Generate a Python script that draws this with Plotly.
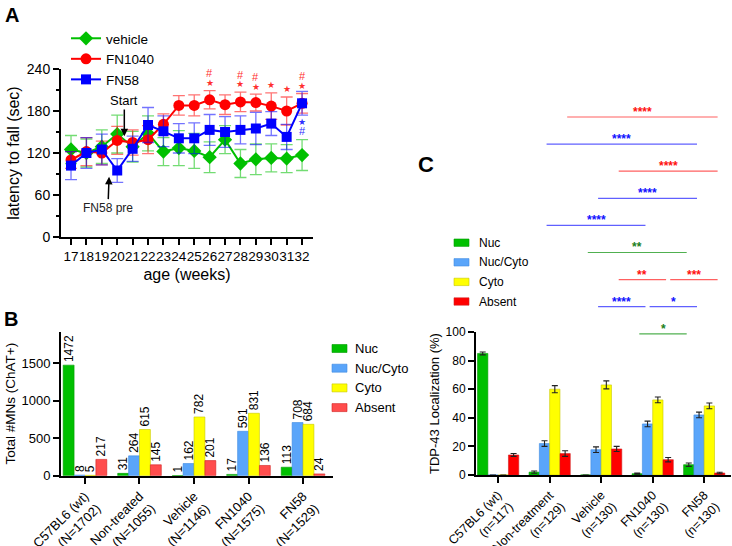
import plotly.graph_objects as go

W, H = 732, 546
def px(x): return x / W
def py(y): return 1 - y / H

FONT = "Arial, Liberation Sans, Helvetica, sans-serif"

# ---------------- Panel A data ----------------
weeks = list(range(17, 33))
vehicle_mean = [125, 120, 129, 147, 129, 148, 122, 127, 123, 114, 139, 105, 111, 113, 112, 117]
vehicle_err = [20, 20, 24, 27, 22, 25, 20, 25, 25, 22, 20, 20, 22, 20, 20, 22]
fn1040_mean = [110, 122, 120, 138, 135, 139, 161, 188, 188, 196, 189, 193, 192, 187, 180, 191]
fn1040_err = [12, 20, 17, 20, 18, 20, 15, 14, 15, 13, 14, 14, 12, 19, 20, 14]
fn58_mean = [102, 120, 125, 95, 126, 160, 151, 141, 141, 153, 150, 153, 155, 162, 143, 191]
fn58_err = [20, 22, 22, 17, 18, 25, 22, 21, 22, 22, 22, 20, 23, 17, 18, 17]
red_star_weeks = [26, 28, 29, 30, 31, 32]
red_hash_weeks = [26, 28, 29, 32]
blue_star_weeks = [32]
blue_hash_weeks = [32]

# ---------------- Panel B data ----------------
b_groups = ["C57BL6 (wt)<br>(N=1702)", "Non-treated<br>(N=1055)", "Vehicle<br>(N=1146)",
            "FN1040<br>(N=1575)", "FN58<br>(N=1529)"]
b_nuc = [1472, 31, 1, 17, 113]
b_nuccyto = [8, 264, 162, 591, 708]
b_cyto = [5, 615, 782, 831, 684]
b_absent = [217, 145, 201, 136, 24]

# ---------------- Panel C data ----------------
c_groups = ["C57BL6 (wt)<br>(n=117)", "Non-treatment<br>(n=129)", "Vehicle<br>(n=130)",
            "FN1040<br>(n=130)", "FN58<br>(n=130)"]
c_nuc = [85, 2, 0, 0.9, 7.2]
c_nuc_err = [1.0, 0.8, 0, 0.4, 1.2]
c_nuccyto = [0, 22, 17.7, 35.7, 42]
c_nuccyto_err = [0, 2.0, 2.0, 2.0, 2.0]
c_cyto = [0, 60, 63, 52.5, 48.3]
c_cyto_err = [0, 2.5, 2.8, 2.0, 2.0]
c_absent = [14, 15, 18.2, 10.7, 1.4]
c_absent_err = [1.0, 2.0, 1.8, 1.5, 0.5]

# significance comparisons: (group from, group to, bar type, label, row)
c_sig = [
    (1, 4, "Absent", "****", 0),
    (1, 4, "Nuc/Cyto", "****", 1),
    (2, 4, "Absent", "****", 2),
    (2, 4, "Nuc/Cyto", "****", 3),
    (1, 3, "Nuc/Cyto", "****", 4),
    (2, 4, "Nuc", "**", 5),
    (2, 3, "Absent", "**", 6),
    (3, 4, "Absent", "***", 6),
    (2, 3, "Nuc/Cyto", "****", 7),
    (3, 4, "Nuc/Cyto", "*", 7),
    (3, 4, "Nuc", "*", 8),
]

cats = ["Nuc", "Nuc/Cyto", "Cyto", "Absent"]
cat_offset = {"Nuc": -0.3, "Nuc/Cyto": -0.1, "Cyto": 0.1, "Absent": 0.3}
fill_B = {"Nuc": "#00C000", "Nuc/Cyto": "#5AA5FA", "Cyto": "#FFFF00", "Absent": "#FF4D4D"}
fill_C = {"Nuc": "#00C000", "Nuc/Cyto": "#5AA5FA", "Cyto": "#FFFF00", "Absent": "#FF0000"}
edge = {"Nuc": "#009A00", "Nuc/Cyto": "#3F8BE0", "Cyto": "#C8C800", "Absent": "#D02020"}

GREEN, RED, BLUE = "#00C000", "#FF0000", "#0000FF"

fig = go.Figure()

# ---------------- Panel A traces ----------------
for name, mean, err, col, sym, size, ecol in [
    ("vehicle", vehicle_mean, vehicle_err, GREEN, "diamond", 11, "rgba(0,192,0,0.55)"),
    ("FN1040", fn1040_mean, fn1040_err, RED, "circle", 11, "rgba(255,0,0,0.55)"),
    ("FN58", fn58_mean, fn58_err, BLUE, "square", 10, "rgba(0,0,255,0.55)"),
]:
    fig.add_trace(go.Scatter(
        x=weeks, y=mean, name=name, mode="lines+markers",
        line=dict(color=col, width=2),
        marker=dict(color=col, symbol=sym, size=size),
        error_y=dict(type="data", array=err, visible=True, color=ecol, thickness=1.3, width=6),
        xaxis="x", yaxis="y", legend="legend", cliponaxis=False,
    ))

# ---------------- Panel B traces ----------------
for c, vals in zip(cats, [b_nuc, b_nuccyto, b_cyto, b_absent]):
    fig.add_trace(go.Bar(
        x=b_groups, y=vals, name=c, showlegend=False,
        marker=dict(color=fill_B[c], line=dict(color=edge[c], width=0.6)),
        text=[str(v) for v in vals], textposition="outside", textangle=-90,
        textfont=dict(family=FONT, size=12, color="black"), constraintext="none",
        cliponaxis=False, xaxis="x2", yaxis="y2",
    ))

# ---------------- Panel C traces ----------------
for c, vals, errs in zip(cats, [c_nuc, c_nuccyto, c_cyto, c_absent],
                         [c_nuc_err, c_nuccyto_err, c_cyto_err, c_absent_err]):
    fig.add_trace(go.Bar(
        x=list(range(len(c_groups))), y=vals, name=c, showlegend=False,
        marker=dict(color=fill_C[c], line=dict(color=edge[c], width=0.6)),
        error_y=dict(type="data", array=errs, visible=True, color="#222222", thickness=1.1, width=3),
        cliponaxis=False, xaxis="x3", yaxis="y3",
    ))

axis_base = dict(showline=True, linecolor="black", linewidth=2, ticks="outside",
                 tickcolor="black", tickwidth=2, showgrid=False, zeroline=False,
                 automargin=False)

annotations = []
shapes = []

# panel letters
annotations += [
    dict(text="<b>A</b>", x=px(3), y=py(2), xref="paper", yref="paper", xanchor="left",
         yanchor="top", showarrow=False, font=dict(family=FONT, size=20, color="black")),
    dict(text="<b>B</b>", x=px(2), y=py(306), xref="paper", yref="paper", xanchor="left",
         yanchor="top", showarrow=False, font=dict(family=FONT, size=20, color="black")),
    dict(text="<b>C</b>", x=px(416), y=py(150), xref="paper", yref="paper", xanchor="left",
         yanchor="top", showarrow=False, font=dict(family=FONT, size=22, color="black")),
]

# Panel A arrows
annotations += [
    dict(text="Start", x=20.46, y=144, ax=20.46, ay=195, xref="x", yref="y", axref="x", ayref="y",
         showarrow=True, arrowhead=2, arrowsize=1, arrowwidth=1.5, arrowcolor="black",
         font=dict(family=FONT, size=13, color="black")),
    dict(text="FN58 pre", x=19.47, y=86, ax=19.4, ay=42, xref="x", yref="y", axref="x", ayref="y",
         showarrow=True, arrowhead=2, arrowsize=1, arrowwidth=1.5, arrowcolor="black",
         font=dict(family=FONT, size=12, color="#222222")),
]

# Panel A significance marks
for w in red_star_weeks:
    i = weeks.index(w)
    annotations.append(dict(text="★", x=w, y=fn1040_mean[i] + fn1040_err[i] + 11, xref="x", yref="y",
                            showarrow=False, font=dict(family=FONT, size=9, color="#FF3030")))
for w in red_hash_weeks:
    i = weeks.index(w)
    annotations.append(dict(text="#", x=w, y=fn1040_mean[i] + fn1040_err[i] + 25, xref="x", yref="y",
                            showarrow=False, font=dict(family=FONT, size=11, color="#FF3030")))
for w in blue_star_weeks:
    i = weeks.index(w)
    annotations.append(dict(text="★", x=w, y=fn58_mean[i] - fn58_err[i] - 9, xref="x", yref="y",
                            showarrow=False, font=dict(family=FONT, size=9, color="#3030FF")))
for w in blue_hash_weeks:
    i = weeks.index(w)
    annotations.append(dict(text="#", x=w, y=fn58_mean[i] - fn58_err[i] - 23, xref="x", yref="y",
                            showarrow=False, font=dict(family=FONT, size=11, color="#3030FF")))

# Panel B legend (manual swatches)
for k, c in enumerate(cats):
    yc = 348.5 + k * 19.7
    shapes.append(dict(type="rect", xref="paper", yref="paper", x0=px(332), x1=px(347),
                       y0=py(yc - 4), y1=py(yc + 4), fillcolor=fill_B[c],
                       line=dict(color=edge[c], width=0.6)))
    annotations.append(dict(text=c, x=px(353), y=py(yc), xref="paper", yref="paper",
                            xanchor="left", yanchor="middle", showarrow=False,
                            font=dict(family=FONT, size=13, color="black")))

# Panel C legend (manual swatches)
for k, c in enumerate(cats):
    yc = 242.7 + k * 19.6
    shapes.append(dict(type="rect", xref="paper", yref="paper", x0=px(454), x1=px(469),
                       y0=py(yc - 3.7), y1=py(yc + 3.7), fillcolor=fill_C[c],
                       line=dict(color=edge[c], width=0.6)))
    annotations.append(dict(text=c, x=px(477), y=py(yc), xref="paper", yref="paper",
                            xanchor="left", yanchor="middle", showarrow=False,
                            font=dict(family=FONT, size=12, color="black")))

# Panel C significance lines
sig_line_col = {"Absent": "#FF6060", "Nuc/Cyto": "#6060FF", "Nuc": "#50B050"}
sig_text_col = {"Absent": "#FF1010", "Nuc/Cyto": "#1010FF", "Nuc": "#208020"}
for g0, g1, c, lab, row in c_sig:
    x0 = g0 + cat_offset[c] + 0.04
    x1 = g1 + cat_offset[c] - 0.04
    yl = 117 + row * 27.1
    shapes.append(dict(type="line", xref="x3", yref="paper", x0=x0, x1=x1, y0=py(yl), y1=py(yl),
                       line=dict(color=sig_line_col[c], width=1.2)))
    annotations.append(dict(text="<b>" + lab + "</b>", x=(x0 + x1) / 2, y=py(yl - 5), xref="x3",
                            yref="paper", yanchor="middle", showarrow=False,
                            font=dict(family=FONT, size=12, color=sig_text_col[c])))

fig.update_layout(
    width=W, height=H, margin=dict(l=0, r=0, t=0, b=0),
    paper_bgcolor="white", plot_bgcolor="white",
    font=dict(family=FONT, color="black"),
    barmode="group", bargap=0.2, bargroupgap=0,
    showlegend=True,
    legend=dict(x=px(66), y=py(23), xanchor="left", yanchor="top", bgcolor="rgba(0,0,0,0)",
                font=dict(family=FONT, size=13.5, color="black"), tracegroupgap=0, itemwidth=30),
    xaxis=dict(axis_base, domain=[px(61), px(313)], range=[16.35, 32.71], anchor="y",
               tickmode="array", tickvals=weeks, ticklen=6, tickangle=0,
               tickfont=dict(family=FONT, size=13.5, color="black"),
               title=dict(text="age (weeks)", font=dict(family=FONT, size=16, color="black"), standoff=6)),
    yaxis=dict(axis_base, domain=[py(237), py(69)], range=[0, 240], anchor="x",
               tickvals=[0, 60, 120, 180, 240], ticklen=6,
               minor=dict(dtick=30, ticklen=3, tickwidth=1.5, tickcolor="black", ticks="outside"),
               tickfont=dict(family=FONT, size=14, color="black"),
               title=dict(text="latency to fall (sec)", font=dict(family=FONT, size=16, color="black"), standoff=3)),
    xaxis2=dict(axis_base, domain=[px(61), px(333)], range=[-0.44, 4.55], anchor="y2",
                ticklen=6, tickangle=-45,
                tickfont=dict(family=FONT, size=13, color="black")),
    yaxis2=dict(axis_base, domain=[py(475.7), py(331.7)], range=[0, 1917], anchor="x2",
                tickvals=[0, 500, 1000, 1500], ticklen=6,
                tickfont=dict(family=FONT, size=13, color="black"),
                title=dict(text="Total #MNs (ChAT+)", font=dict(family=FONT, size=13.5, color="black"), standoff=3)),
    xaxis3=dict(axis_base, domain=[px(476), px(731)], range=[-0.43, 4.52], anchor="y3",
                ticklen=6, tickangle=-45, tickmode="array",
                tickvals=list(range(len(c_groups))), ticktext=c_groups,
                tickfont=dict(family=FONT, size=12.5, color="black")),
    yaxis3=dict(axis_base, domain=[py(475), py(332)], range=[0, 100], anchor="x3",
                tickvals=[0, 20, 40, 60, 80, 100], ticklen=6,
                tickfont=dict(family=FONT, size=12, color="black"),
                title=dict(text="TDP-43 Localization (%)", font=dict(family=FONT, size=13, color="black"), standoff=3)),
    annotations=annotations, shapes=shapes,
)

fig.write_html("out.html", config={"displayModeBar": False},
               post_script="document.body.style.margin='0px';")
